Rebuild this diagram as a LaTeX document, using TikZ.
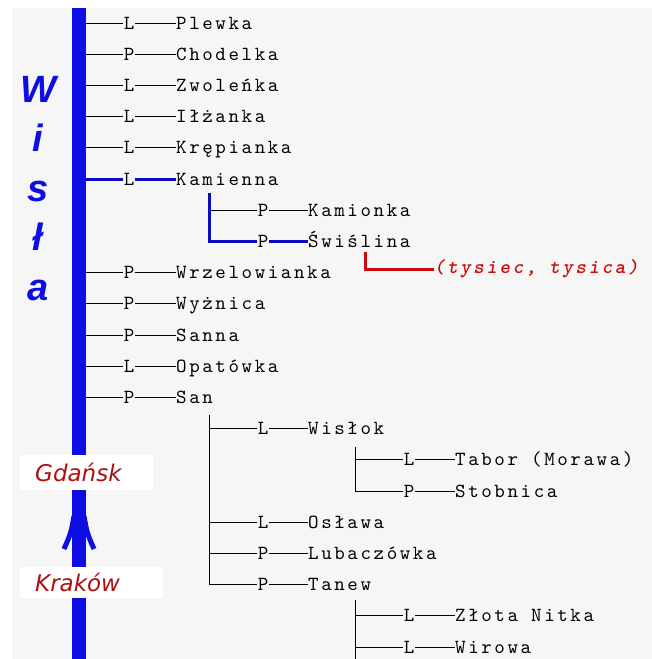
\documentclass[tikz,border=0pt]{standalone}
\usepackage{fontspec}
\newfontfamily\rivmono{lmmono10-regular.otf}[LetterSpace=13,
  ItalicFont=lmmono10-italic.otf, BoldFont=lmmonolt10-bold.otf,
  BoldItalicFont=lmmonolt10-boldoblique.otf]
\newfontfamily\wisfont{Liberation Sans}
\newfontfamily\cityfont{DejaVu Sans}
\newcommand{\rivfont}{\rivmono\fontsize{20}{20}\selectfont}
\definecolor{riverblue}{RGB}{14,14,228}
\definecolor{pathblue}{RGB}{10,10,190}
\definecolor{cityred}{RGB}{175,15,15}
\definecolor{notered}{RGB}{205,10,10}
\definecolor{paper}{RGB}{246,246,246}
\tikzset{
  river/.style={anchor=west, inner sep=0pt, font=\rivfont, text height=12.2pt, text depth=0pt},
  bank/.style={inner sep=1pt, font=\rivfont, text height=12.2pt, text depth=0pt},
  link/.style={black, line width=1pt},
  hilite/.style={pathblue, line width=3pt},
  redline/.style={notered, line width=3pt},
  bar/.style={riverblue, line width=14pt},
  city/.style={anchor=north west, fill=white, inner xsep=15pt, inner ysep=0pt, text width=103pt,
    align=left, minimum height=35pt, text=cityred, font=\cityfont\itshape\fontsize{23}{23}\selectfont},
  wisla/.style={anchor=base, text=riverblue, font=\wisfont\bfseries\itshape\fontsize{38}{38}\selectfont},
  note/.style={anchor=west, inner sep=0pt, text=notered, font=\rivfont\itshape\bfseries}
}
\begin{document}
\begin{tikzpicture}[x=1pt,y=-1pt]
  \useasboundingbox (0,0) rectangle (652,659);
  \fill[paper] (12,8) rectangle (652,659);
  \coordinate (src) at (79,8);
  \coordinate (mouth) at (79,659);
  % Wisla, left (L) and right (P) tributaries
  \node[bank] (k1) at (129,23) {L};     \node[river] (plewka) at (176,23) {Plewka};
  \node[bank] (k2) at (129,54.2) {P};   \node[river] (chodelka) at (176,54.2) {Chodelka};
  \node[bank] (k3) at (129,85.4) {L};   \node[river] (zwolenka) at (176,85.4) {Zwoleńka};
  \node[bank] (k4) at (129,116.6) {L};  \node[river] (ilzanka) at (176,116.6) {Iłżanka};
  \node[bank] (k5) at (129,147.8) {L};  \node[river] (krepianka) at (176,147.8) {Krępianka};
  \node[bank] (k6) at (129,179) {L};    \node[river] (kamienna) at (176,179) {Kamienna};
  \node[bank] (k9) at (129,272.6) {P};  \node[river] (wrzelowianka) at (176,272.6) {Wrzelowianka};
  \node[bank] (k10) at (129,303.8) {P}; \node[river] (wyznica) at (176,303.8) {Wyżnica};
  \node[bank] (k11) at (129,335) {P};   \node[river] (sanna) at (176,335) {Sanna};
  \node[bank] (k12) at (129,366.2) {L}; \node[river] (opatowka) at (176,366.2) {Opatówka};
  \node[bank] (k13) at (129,397.4) {P}; \node[river] (san) at (176,397.4) {San};
  \foreach \k/\r in {k1/plewka,k2/chodelka,k3/zwolenka,k4/ilzanka,k5/krepianka,
      k9/wrzelowianka,k10/wyznica,k11/sanna,k12/opatowka,k13/san}
    \draw[link] (\k -| src) -- (\k) -- (\r);
  \draw[hilite] (k6 -| src) -- (k6) -- (kamienna);
  % Kamienna
  \coordinate (kamfork) at (209,193);
  \node[bank] (k7) at (263,210.2) {P};  \node[river] (kamionka) at (308,210.2) {Kamionka};
  \node[bank] (k8) at (263,241.4) {P};  \node[river] (swislina) at (308,241.4) {Świślina};
  \draw[link] (kamfork |- k7) -- (k7) -- (kamionka);
  \draw[hilite] (kamfork) |- (k8) -- (swislina);
  \coordinate (notefork) at (365,252);
  \node[note] (tysiec) at (434,269) {(tysiec, tysica)};
  \draw[redline] (notefork) |- (tysiec);
  % San
  \coordinate (sanfork) at (209,415);
  \node[bank] (k14) at (263,428.6) {L}; \node[river] (wislok) at (308,428.6) {Wisłok};
  \node[bank] (k17) at (263,522.2) {L}; \node[river] (oslawa) at (308,522.2) {Osława};
  \node[bank] (k18) at (263,553.4) {P}; \node[river] (lubaczowka) at (308,553.4) {Lubaczówka};
  \node[bank] (k19) at (263,584.6) {P}; \node[river] (tanew) at (308,584.6) {Tanew};
  \foreach \k/\r in {k14/wislok,k17/oslawa,k18/lubaczowka}
    \draw[link] (sanfork |- \k) -- (\k) -- (\r);
  \draw[link] (sanfork) |- (k19) -- (tanew);
  % Wislok
  \coordinate (wisfork) at (355,447);
  \node[bank] (k15) at (409,459.8) {L}; \node[river] (tabor) at (455,459.8) {Tabor (Morawa)};
  \node[bank] (k16) at (409,491) {P};   \node[river] (stobnica) at (455,491) {Stobnica};
  \draw[link] (wisfork |- k15) -- (k15) -- (tabor);
  \draw[link] (wisfork) |- (k16) -- (stobnica);
  % Tanew
  \coordinate (tanfork) at (355,600);
  \coordinate (tanend) at (355,659);
  \node[bank] (k20) at (409,615.8) {L}; \node[river] (zlota) at (455,615.8) {Złota Nitka};
  \node[bank] (k21) at (409,647) {L};   \node[river] (wirowa) at (455,647) {Wirowa};
  \draw[link] (tanfork) -- (tanend);
  \foreach \k/\r in {k20/zlota,k21/wirowa}
    \draw[link] (tanfork |- \k) -- (\k) -- (\r);
  % the Vistula itself
  \draw[bar] (src) -- (mouth);
  \draw[riverblue, line width=5pt] (74,516) .. controls (71,533) .. (64,549);
  \draw[riverblue, line width=5pt] (84,516) .. controls (87,533) .. (94,549);
  \node[city] (gdansk) at (20,455) {Gdańsk};
  \node[city, minimum height=31pt, text width=113pt] (krakow) at (20,567) {Kraków};
  \foreach \ch [count=\i] in {W,i,s,ł,a}
    \node[wisla] (w\i) at (38,{52.5+49.5*\i}) {\ch};
\end{tikzpicture}
\end{document}
